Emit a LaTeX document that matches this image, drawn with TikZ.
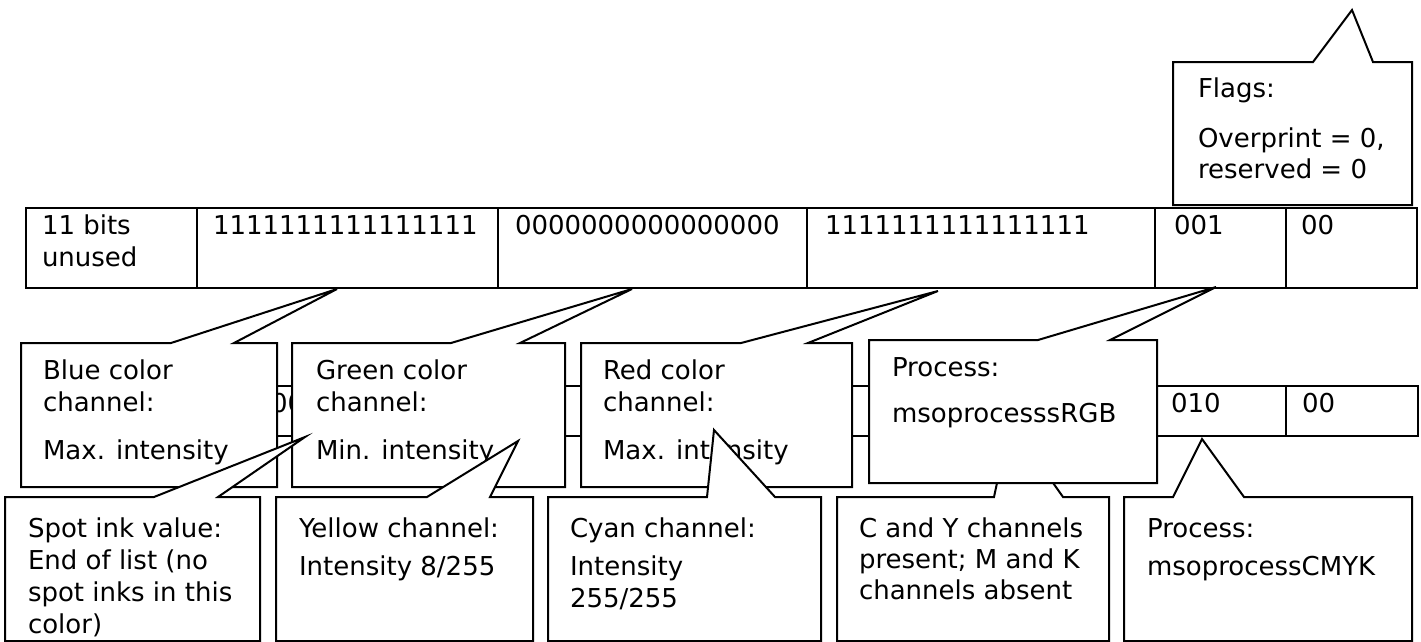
\documentclass[tikz,border=0pt]{standalone}
\usepackage{fontspec}
\setmainfont{DejaVu Sans}
% #1 x-left, #2 y-top, #3 x-right, #4 y-bottom, #5 tail base left, #6 tail base right, #7 tip coordinate
\newcommand{\calloutshape}[7]{%
  \filldraw[calloutbox] (#1,#2) -- (#5,#2) -- (#7) -- (#6,#2) -- (#3,#2) -- (#3,#4) -- (#1,#4) -- cycle;}
\begin{document}
\begin{tikzpicture}[x=1pt,y=-1pt,line width=2pt,line join=miter,
  txt/.style={anchor=base west,inner sep=0pt,font=\fontsize{26}{32}\selectfont},
  rowbox/.style={draw=black,fill=white},
  calloutbox/.style={draw=black,fill=white}]
\useasboundingbox (0,0) rectangle (1421,641);

% ---------- row 1 ----------
\draw[rowbox] (26,208) rectangle (1417,288);
\foreach \xx in {197,498,807,1155,1286} \draw (\xx,208) -- (\xx,288);
\node[txt] (r1a) at (41,234) {11 bits};
\node[txt] (r1b) at (41,266) {unused};
\node[txt] (r1c) at (212,234) {1111111111111111};
\node[txt] (r1d) at (514,234) {0000000000000000};
\node[txt] (r1e) at (824,234) {1111111111111111};
\node[txt] (r1f) at (1173,234) {001};
\node[txt] (r1g) at (1300,234) {00};

% ---------- row 2 (mostly hidden behind the callouts) ----------
\draw[rowbox] (26,386) rectangle (1418,436);
\foreach \xx in {197,498,807,1156,1286} \draw (\xx,386) -- (\xx,436);
\node[txt] (r2a) at (270,412) {00};
\node[txt] (r2b) at (1170,412) {010};
\node[txt] (r2c) at (1301,412) {00};

% ---------- tips ----------
\coordinate (tBlue) at (337,289);
\coordinate (tGreen) at (632,289);
\coordinate (tRed) at (938,291);
\coordinate (tSpot) at (305,437);
\coordinate (tYellow) at (518,441);
\coordinate (tCyan) at (714,430);
\coordinate (tCY) at (1010,422);
\coordinate (tRGB) at (1216,287);
\coordinate (tCMYK) at (1202,439);
\coordinate (tFlags) at (1352,10);

% ---------- RGB callouts ----------
\calloutshape{21}{343}{277}{487}{171}{234}{tBlue}
\node[txt] (blue1) at (42,379) {Blue color};
\node[txt] (blue2) at (42,411) {channel:};
\node[txt] (blue3) at (42,459) {Max. intensity};

\calloutshape{292}{343}{565}{487}{451}{520}{tGreen}
\node[txt] (green1) at (315,379) {Green color};
\node[txt] (green2) at (315,411) {channel:};
\node[txt] (green3) at (315,459) {Min. intensity};

\calloutshape{581}{343}{852}{487}{741}{808}{tRed}
\node[txt] (red1) at (602,379) {Red color};
\node[txt] (red2) at (602,411) {channel:};
\node[txt] (red3) at (602,459) {Max. intensity};

% ---------- CMYK callouts ----------
\calloutshape{5}{497}{260}{641}{154}{218}{tSpot}
\node[txt] (spot1) at (27,537) {Spot ink value:};
\node[txt] (spot2) at (27,569) {End of list (no};
\node[txt] (spot3) at (27,601) {spot inks in this};
\node[txt] (spot4) at (27,633) {color)};

\calloutshape{276}{497}{533}{641}{427}{490}{tYellow}
\node[txt] (yel1) at (298,537) {Yellow channel:};
\node[txt] (yel2) at (298,575) {Intensity 8/255};

\calloutshape{548}{497}{821}{641}{707}{775}{tCyan}
\node[txt] (cyan1) at (569,537) {Cyan channel:};
\node[txt] (cyan2) at (569,575) {Intensity};
\node[txt] (cyan3) at (569,607) {255/255};

\calloutshape{837}{497}{1109}{641}{994}{1063}{tCY}
\node[txt] (cy1) at (858,537) {C and Y channels};
\node[txt] (cy2) at (858,568) {present; M and K};
\node[txt] (cy3) at (858,599) {channels absent};

\calloutshape{869}{340}{1157}{483}{1038}{1110}{tRGB}
\node[txt] (prgb1) at (891,376) {Process:};
\node[txt] (prgb2) at (891,422) {msoprocesssRGB};

\calloutshape{1124}{497}{1412}{641}{1173}{1244}{tCMYK}
\node[txt] (pcmyk1) at (1146,537) {Process:};
\node[txt] (pcmyk2) at (1146,575) {msoprocessCMYK};

\calloutshape{1173}{62}{1412}{205}{1313}{1373}{tFlags}
\node[txt] (flag1) at (1197,97) {Flags:};
\node[txt] (flag2) at (1197,147) {Overprint = 0,};
\node[txt] (flag3) at (1197,178) {reserved = 0};
\end{tikzpicture}
\end{document}
